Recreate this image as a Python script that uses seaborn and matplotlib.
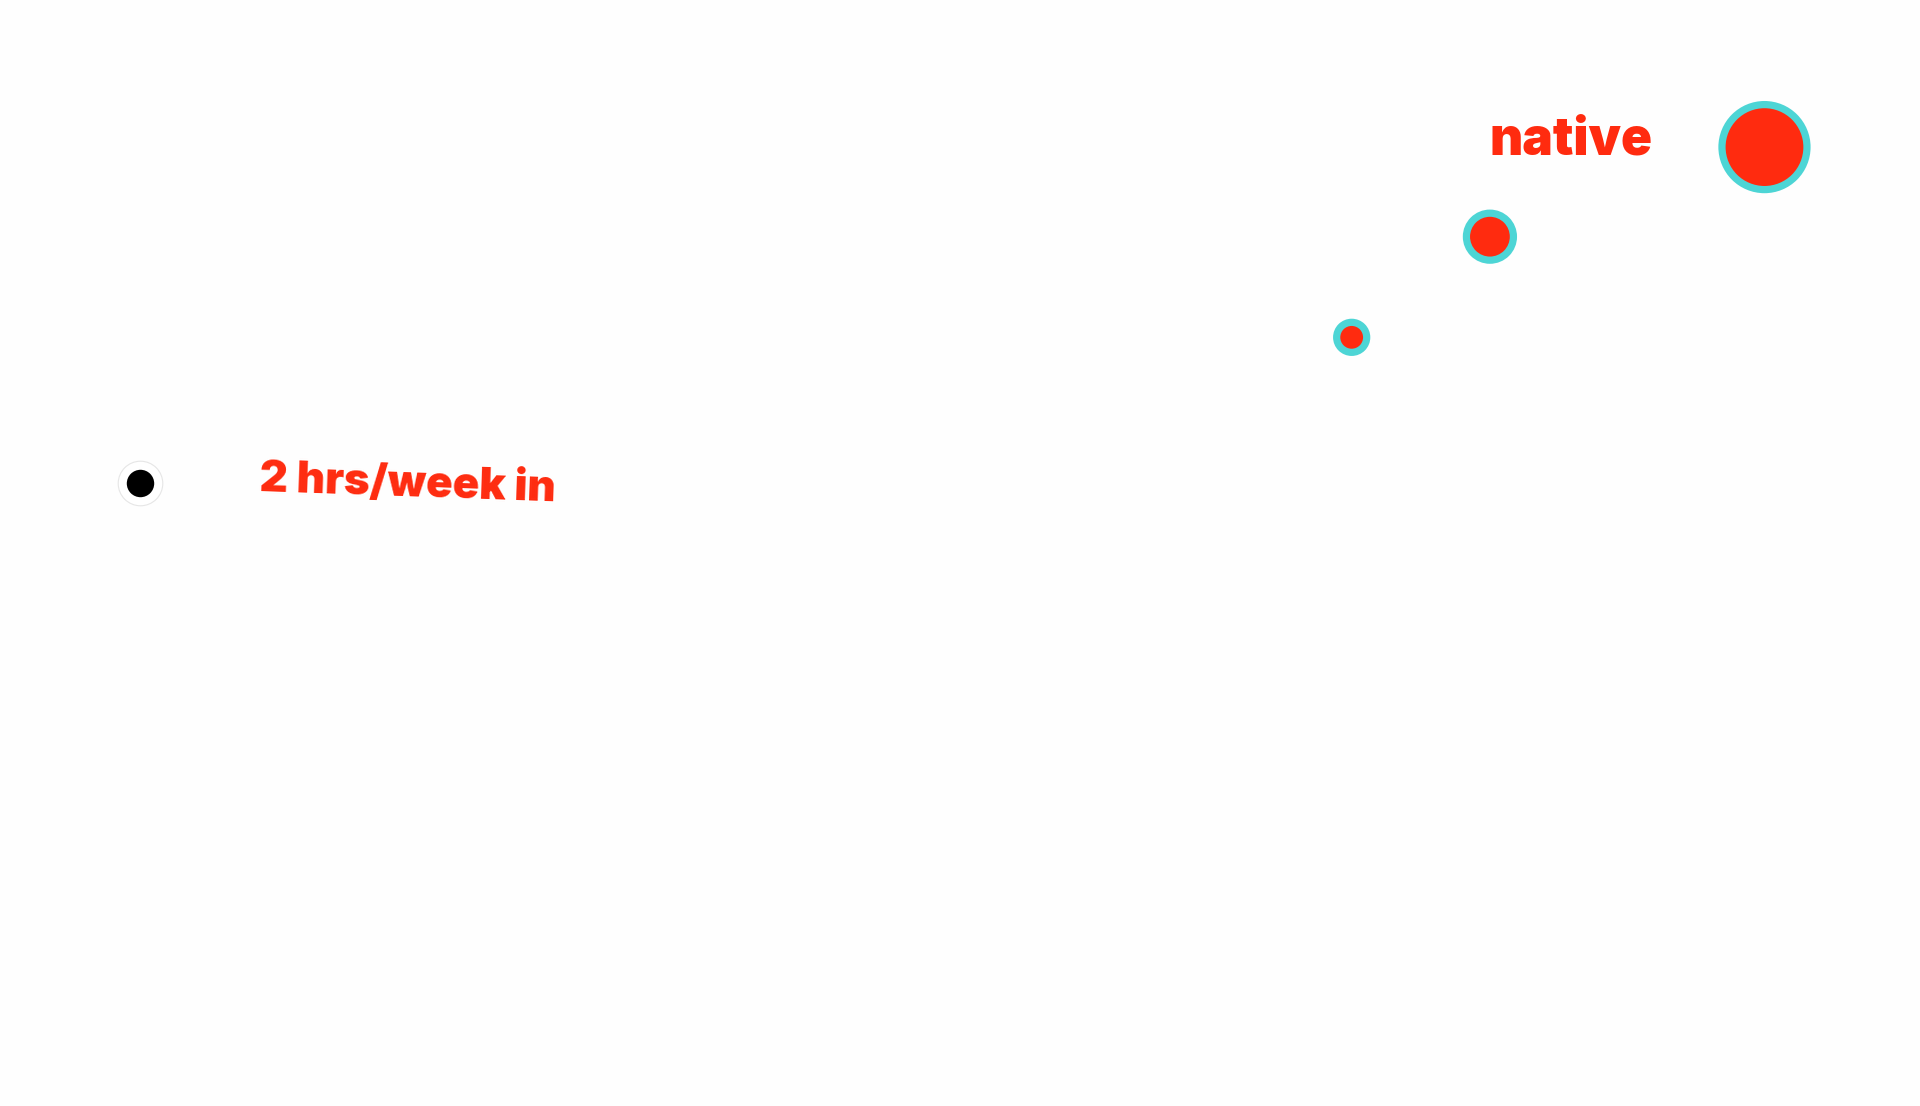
import matplotlib
matplotlib.use("Agg")
import matplotlib.pyplot as plt
import seaborn as sns
import pandas as pd

# red "immersion" points: position on the chart (percent of width / height) and level
red_x = [70.4, 77.6, 91.9]
red_y = [69.5, 78.6, 86.7]
red_level = [1, 2, 3]

# black starting point
start_x = [7.3]
start_y = [56.3]

labels = ["2 hrs/week in", "native"]

RED = "#FF2B0F"
CYAN = "#4DD5D5"

sns.set_theme(style="white")
plt.rcParams["font.family"] = ["Inter", "Lato", "DejaVu Sans"]

red = pd.DataFrame({"x": red_x, "y": red_y, "level": red_level})
start = pd.DataFrame({"x": start_x, "y": start_y})

fig = plt.figure(figsize=(19.2, 11.06), dpi=100)
fig.patch.set_facecolor("#FEFEFE")
ax = fig.add_axes([0, 0, 1, 1])
ax.set_facecolor("#FEFEFE")

sns.scatterplot(data=red, x="x", y="y", size="level",
                sizes={1: 467, 2: 1145, 3: 3745},
                color=RED, edgecolor=CYAN, linewidth=5.2,
                legend=False, ax=ax, zorder=3)

# start marker: white halo with faint outline, black dot
sns.scatterplot(data=start, x="x", y="y", s=1030, color="white",
                edgecolor="#E6E6E6", linewidth=0.8, legend=False, ax=ax, zorder=2)
sns.scatterplot(data=start, x="x", y="y", s=390, color="black",
                linewidth=0, legend=False, ax=ax, zorder=3)

ax.text(13.5, 55.6, labels[0], color=RED, fontsize=31.5, fontweight="black",
        ha="left", va="baseline", rotation=-2, rotation_mode="anchor")
ax.text(77.6, 86.0, labels[1], color=RED, fontsize=37, fontweight="black",
        ha="left", va="baseline")

ax.set_xlim(0, 100)
ax.set_ylim(0, 100)
ax.set_axis_off()

fig.savefig("out.png", dpi=100, facecolor=fig.get_facecolor())
